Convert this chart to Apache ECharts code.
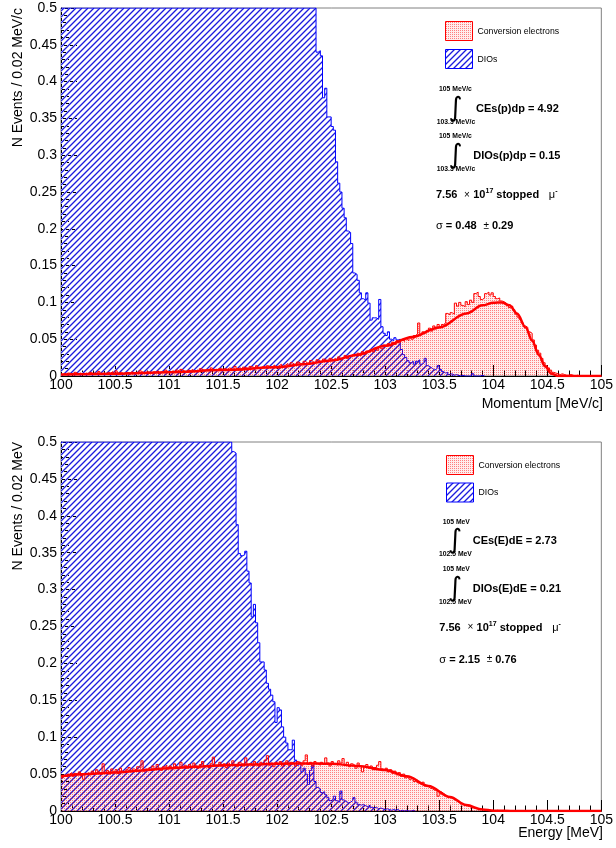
<!DOCTYPE html>
<html>
<head>
<meta charset="utf-8">
<script src="https://cdn.jsdelivr.net/npm/echarts@6/dist/echarts.min.js"></script>
<style>
  html, body { margin: 0; padding: 0; background: #ffffff; }
  #chart { width: 616px; height: 848px; }
</style>
</head>
<body>
<div id="chart"></div>
<script>
// ---- binning / axis ranges ----
const binW = 0.02;
const xMin = 100, xMax = 105, xStep = 0.5;
const yMin = 0, yMax = 0.5, yStep = 0.05;

// ---- momentum spectrum: conversion electrons, 0.02 MeV/c bins from 100.00 ----
const ceMomentum = [
  0.002,0.003,0.001,0.004,0.003,0.002,0.005,0.003,0.004,0.002,
  0.003,0.004,0.002,0.005,0.003,0.004,0.003,0.006,0.003,0.004,
  0.003,0.005,0.004,0.006,0.003,0.007,0.004,0.005,0.003,0.004,
  0.005,0.004,0.006,0.003,0.005,0.004,0.007,0.005,0.004,0.006,
  0.005,0.004,0.006,0.005,0.007,0.004,0.006,0.005,0.008,0.005,
  0.006,0.007,0.005,0.008,0.006,0.009,0.007,0.006,0.008,0.007,
  0.009,0.006,0.008,0.007,0.010,0.008,0.007,0.009,0.008,0.011,
  0.008,0.009,0.007,0.010,0.009,0.010,0.009,0.011,0.010,0.008,
  0.013,0.010,0.011,0.009,0.012,0.011,0.010,0.013,0.012,0.010,
  0.014,0.011,0.012,0.013,0.011,0.014,0.012,0.013,0.015,0.012,
  0.014,0.016,0.013,0.015,0.017,0.014,0.018,0.016,0.015,0.019,
  0.017,0.016,0.020,0.018,0.017,0.021,0.019,0.018,0.022,0.020,
  0.019,0.023,0.021,0.020,0.024,0.022,0.024,0.021,0.026,0.023,
  0.025,0.028,0.024,0.027,0.026,0.029,0.027,0.031,0.028,0.033,
  0.030,0.034,0.032,0.036,0.033,0.038,0.035,0.040,0.037,0.042,
  0.040,0.044,0.041,0.046,0.043,0.048,0.045,0.049,0.047,0.050,
  0.048,0.053,0.050,0.055,0.057,0.072,0.056,0.060,0.058,0.062,
  0.065,0.061,0.068,0.064,0.070,0.067,0.070,0.072,0.085,0.083,
  0.086,0.084,0.099,0.095,0.100,0.096,0.094,0.101,0.097,0.103,
  0.100,0.112,0.114,0.108,0.104,0.106,0.112,0.114,0.110,0.113,
  0.108,0.105,0.106,0.102,0.101,0.099,0.096,0.093,0.095,0.090,
  0.084,0.080,0.077,0.072,0.068,0.066,0.060,0.058,0.049,0.042,
  0.035,0.031,0.024,0.018,0.014,0.011,0.008,0.005,0.004,0.003,
  0.002,0.003,0.002,0.001,0.001,0.002,0.001,0.000,0.001,0.000,
  0.000,0.000,0.000,0.000,0.000,0.000,0.000,0.000,0.000,0.000
];

// ---- momentum spectrum: DIO; below dioMomentumStart the bins are above the frame ----
const dioMomentumStart = 102.36;
const dioMomentum = [
  0.440,0.442,0.435,0.378,0.391,0.352,0.352,0.339,0.334,0.291,
  0.262,0.250,0.228,0.215,0.197,0.195,0.180,0.140,0.138,0.130,
  0.113,0.105,0.103,0.113,0.099,0.076,0.079,0.079,0.077,0.104,
  0.067,0.058,0.055,0.060,0.050,0.048,0.052,0.049,0.050,0.036,
  0.029,0.025,0.021,0.018,0.020,0.016,0.020,0.022,0.016,0.018,
  0.024,0.014,0.012,0.010,0.008,0.010,0.014,0.009,0.006,0.004,
  0.005,0.002,0.003,0.001,0.002,0.001,0.000,0.001,0.000,0.000,
  0.000,0.000,0.003,0.000,0.000,0.000,0.001,0.000
];

// ---- fitted CE momentum shape [p, N] ----
const ceMomentumFit = [
  [100,0.002],[100.5,0.003],[101,0.005],[101.5,0.008],[102,0.012],[102.25,0.016],
  [102.5,0.021],[102.75,0.029],[103,0.041],[103.25,0.053],[103.5,0.066],[103.75,0.085],
  [103.9,0.096],[104.0,0.0995],[104.08,0.100],[104.15,0.096],[104.22,0.085],[104.3,0.066],
  [104.36,0.048],[104.42,0.029],[104.48,0.013],[104.54,0.003],[104.6,0.0],[105,0.0]
];

// ---- energy spectrum: conversion electrons, 0.02 MeV bins from 100.00 ----
const ceEnergy = [
  0.045,0.048,0.046,0.050,0.052,0.047,0.051,0.049,0.053,0.048,
  0.043,0.050,0.052,0.049,0.054,0.051,0.056,0.053,0.050,0.064,
  0.052,0.055,0.050,0.057,0.053,0.056,0.051,0.058,0.054,0.052,
  0.056,0.059,0.053,0.057,0.055,0.060,0.058,0.068,0.054,0.057,
  0.059,0.056,0.061,0.057,0.063,0.058,0.055,0.060,0.062,0.057,
  0.061,0.058,0.064,0.060,0.057,0.066,0.059,0.062,0.058,0.063,
  0.060,0.065,0.061,0.058,0.063,0.067,0.060,0.062,0.059,0.064,
  0.073,0.062,0.060,0.066,0.061,0.064,0.059,0.065,0.062,0.068,
  0.063,0.060,0.066,0.064,0.061,0.072,0.063,0.065,0.062,0.067,
  0.064,0.061,0.066,0.063,0.069,0.075,0.062,0.065,0.060,0.066,
  0.063,0.067,0.061,0.065,0.068,0.062,0.066,0.064,0.061,0.067,
  0.065,0.062,0.068,0.076,0.063,0.066,0.061,0.067,0.064,0.062,
  0.066,0.063,0.072,0.065,0.061,0.067,0.064,0.062,0.068,0.065,
  0.071,0.063,0.066,0.060,0.064,0.062,0.058,0.065,0.061,0.053,
  0.060,0.063,0.058,0.061,0.056,0.059,0.062,0.067,0.057,0.055,
  0.058,0.053,0.056,0.051,0.054,0.049,0.052,0.047,0.050,0.045,
  0.047,0.043,0.045,0.040,0.042,0.038,0.036,0.039,0.034,0.033,
  0.031,0.030,0.028,0.029,0.020,0.026,0.024,0.022,0.020,0.019,
  0.017,0.016,0.014,0.012,0.011,0.009,0.008,0.007,0.006,0.005,
  0.004,0.004,0.003,0.003,0.002,0.002,0.001,0.002,0.001,0.001,
  0.000,0.001,0.000,0.000,0.001,0.000,0.000,0.000,0.000,0.000,
  0.000,0.000,0.000,0.000,0.000,0.000,0.000,0.000,0.000,0.000,
  0.000,0.000,0.000,0.000,0.000,0.000,0.000,0.000,0.000,0.000,
  0.000,0.000,0.000,0.000,0.000,0.000,0.000,0.000,0.000,0.000,
  0.000,0.000,0.000,0.000,0.000,0.000,0.000,0.000,0.000,0.000
];

// ---- energy spectrum: DIO; below dioEnergyStart the bins are above the frame ----
const dioEnergyStart = 101.58;
const dioEnergy = [
  0.487,0.485,0.388,0.349,0.346,0.347,0.352,0.325,0.309,0.263,
  0.280,0.255,0.228,0.202,0.202,0.191,0.173,0.165,0.157,0.148,
  0.120,0.140,0.137,0.114,0.100,0.092,0.083,0.083,0.096,0.069,
  0.062,0.066,0.053,0.058,0.050,0.036,0.055,0.062,0.040,0.032,
  0.030,0.025,0.026,0.022,0.018,0.014,0.016,0.020,0.014,0.012,
  0.027,0.015,0.013,0.011,0.012,0.014,0.018,0.012,0.009,0.008,
  0.009,0.007,0.006,0.008,0.005,0.004,0.005,0.003,0.004,0.003,
  0.002,0.003,0.002,0.001,0.002,0.001,0.002,0.000,0.001,0.000,
  0.001,0.000,0.000,0.001,0.000
];

// ---- fitted CE energy shape [E, N] ----
const ceEnergyFit = [
  [100,0.047],[100.25,0.050],[100.5,0.052],[100.75,0.055],[101,0.058],[101.25,0.060],
  [101.5,0.062],[101.75,0.063],[102,0.064],[102.25,0.0645],[102.5,0.064],[102.75,0.061],
  [103,0.0555],[103.2,0.047],[103.4,0.034],[103.6,0.019],[103.75,0.008],[103.9,0.002],
  [104.0,0.0005],[104.2,0.0],[105,0.0]
];

// ---- text ----
const legendLabels = ['Conversion electrons', 'DIOs'];
const axisTitlesX = ['Momentum [MeV/c]', 'Energy [MeV]'];
const axisTitlesY = ['N Events / 0.02 MeV/c', 'N Events / 0.02 MeV'];
const upperLimits = ['105 MeV/c', '105 MeV'];
const lowerLimits = ['103.3 MeV/c', '102.5 MeV'];
const ceIntegrals = ['CEs(p)dp = 4.92', 'CEs(E)dE = 2.73'];
const dioIntegrals = ['DIOs(p)dp = 0.15', 'DIOs(E)dE = 0.21'];
const stoppedMuons = ['7.56', '17'];
const sigmaValues = [['0.48', '0.29'], ['2.15', '0.76']];

const FONT = 'Liberation Sans, Arial, Helvetica, sans-serif';

// ---- fill patterns ----
// forward-slash hatch: a blue core pixel per row with pale-blue fringes
function hatchPattern(size) {
  const c = document.createElement('canvas');
  c.width = size; c.height = size;
  const g = c.getContext('2d');
  for (let i = 0; i < size; i++) {
    const row = size - 1 - i;
    g.fillStyle = 'rgb(150,150,245)';
    g.fillRect((i + size - 1) % size, row, 1, 1);
    g.fillRect((i + 1) % size, row, 1, 1);
    g.fillStyle = 'rgb(30,30,215)';
    g.fillRect(i, row, 1, 1);
  }
  return { image: c, repeat: 'repeat' };
}
// fine red dot stipple on a pale pink ground
function stipplePattern() {
  const c = document.createElement('canvas');
  c.width = 2; c.height = 2;
  const g = c.getContext('2d');
  g.fillStyle = 'rgba(255,0,0,0.07)';
  g.fillRect(0, 0, 2, 2);
  g.clearRect(0, 0, 1, 1);
  g.fillStyle = 'rgba(255,0,0,0.5)';
  g.fillRect(0, 0, 1, 1);
  return { image: c, repeat: 'repeat' };
}
const hatch = hatchPattern(6);
const stipple = stipplePattern();

// ---- histogram outline points (bin low edges + closing edge) ----
function histData(start, vals, offscaleFrom) {
  const pts = [];
  if (offscaleFrom !== undefined) pts.push([offscaleFrom, yMax]);
  vals.forEach((v, i) => pts.push([+(start + i * binW).toFixed(2), Math.min(v, yMax)]));
  pts.push([+(start + vals.length * binW).toFixed(2), Math.min(vals[vals.length - 1], yMax)]);
  return pts;
}

function histSeries(idx, data, lineColor, fill, z) {
  return {
    type: 'line', xAxisIndex: idx, yAxisIndex: idx, data: data,
    step: 'end', symbol: 'none', silent: true, clip: true, z: z,
    lineStyle: { color: lineColor, width: 1 },
    areaStyle: { color: fill, opacity: 1, origin: 'start' }
  };
}
function fitSeries(idx, data) {
  return {
    type: 'line', xAxisIndex: idx, yAxisIndex: idx, data: data,
    smooth: 0.35, smoothMonotone: 'x', symbol: 'none', silent: true, clip: true, z: 5,
    lineStyle: { color: '#ff0000', width: 2.5 }
  };
}

const grids = [
  { left: 61, top: 8, width: 542, height: 368 },
  { left: 61, top: 442, width: 542, height: 369 }
];

function makeXAxis(i) {
  return {
    gridIndex: i, type: 'value', min: xMin, max: xMax, interval: xStep,
    axisLine: { show: true, onZero: false, lineStyle: { color: '#000', width: 1 } },
    axisTick: { show: true, inside: true, length: 11, lineStyle: { color: '#000' } },
    minorTick: { show: true, splitNumber: 5, length: 5.5, lineStyle: { color: '#000' } },
    splitLine: { show: false }, minorSplitLine: { show: false },
    axisLabel: { margin: 2, fontSize: 14, fontFamily: FONT, color: '#000' }
  };
}
function makeYAxis(i) {
  return {
    gridIndex: i, type: 'value', min: yMin, max: yMax, interval: yStep,
    axisLine: { show: true, onZero: false, lineStyle: { color: '#000', width: 1 } },
    axisTick: { show: true, inside: true, length: 16, lineStyle: { color: '#000' } },
    minorTick: { show: true, splitNumber: 5, length: 8, lineStyle: { color: '#000' } },
    splitLine: { show: false }, minorSplitLine: { show: false },
    axisLabel: { margin: 4, fontSize: 14, fontFamily: FONT, color: '#000' }
  };
}

// ---- annotation text helpers ----
function txt(x, y, text, size, weight, align) {
  return {
    type: 'text', x: x, y: y, silent: true, z: 20,
    style: {
      text: text, fill: '#000', fontSize: size, fontWeight: weight || 'normal', fontFamily: FONT,
      align: align || 'left', verticalAlign: 'middle', textAlign: align || 'left', textVerticalAlign: 'middle'
    }
  };
}
function integralSign(x, y) {
  return {
    type: 'text', x: x, y: y, silent: true, z: 20,
    style: {
      text: '\u222B', fill: '#000', fontSize: 27, fontFamily: 'DejaVu Sans, sans-serif',
      align: 'center', verticalAlign: 'middle', textAlign: 'center', textVerticalAlign: 'middle'
    }
  };
}
function richLine(x, y, text, rich) {
  return {
    type: 'text', x: x, y: y, silent: true, z: 20,
    style: { text: text, rich: rich, fill: '#000', align: 'left', verticalAlign: 'middle',
             textAlign: 'left', textVerticalAlign: 'middle' }
  };
}
const richStyles = {
  b: { fontSize: 11, fontWeight: 'bold', fontFamily: FONT, lineHeight: 14, fill: '#000' },
  r: { fontSize: 10, fontFamily: FONT, lineHeight: 14, fill: '#000' },
  s: { fontSize: 7, fontWeight: 'bold', fontFamily: FONT, lineHeight: 8, verticalAlign: 'top', fill: '#000' },
  m: { fontSize: 11, fontFamily: FONT, lineHeight: 14, fill: '#000' }
};

function panelNotes(i, p) {
  return [
    { type: 'rect', silent: true, z: 20, shape: { x: p.bx, y: p.by1, width: 27, height: 19 },
      style: { fill: stipple, stroke: '#ff0000', lineWidth: 1 } },
    { type: 'rect', silent: true, z: 20, shape: { x: p.bx, y: p.by2, width: 27, height: 19 },
      style: { fill: hatch, stroke: '#0000ff', lineWidth: 1 } },
    txt(p.bx + 32, p.by1 + 10, legendLabels[0], 8.7),
    txt(p.bx + 32, p.by2 + 10, legendLabels[1], 8.7),
    txt(p.ux, p.i1 - 19, upperLimits[i], 6.8, 'bold'),
    integralSign(p.sx, p.i1),
    txt(p.lx, p.i1 + 13.5, lowerLimits[i], 6.8, 'bold'),
    txt(p.ex1, p.i1, ceIntegrals[i], 11, 'bold'),
    txt(p.ux, p.i2 - 19, upperLimits[i], 6.8, 'bold'),
    integralSign(p.sx, p.i2),
    txt(p.lx, p.i2 + 13.5, lowerLimits[i], 6.8, 'bold'),
    txt(p.ex2, p.i2, dioIntegrals[i], 11, 'bold'),
    richLine(p.tx, p.muY,
      '{b|' + stoppedMuons[0] + '}  {r|\u00D7} {b|10}{s|' + stoppedMuons[1] + '}{b| stopped }  {m|\u03BC}{s|-}',
      richStyles),
    richLine(p.tx, p.sgY,
      '{m|\u03C3}{b| = ' + sigmaValues[i][0] + '}  {r|\u00B1}{b| ' + sigmaValues[i][1] + '}',
      richStyles),
    // axis titles
    txt(603, p.xtY, axisTitlesX[i], 14, 'normal', 'right'),
    {
      type: 'text', x: 18, y: p.ytTop, rotation: Math.PI / 2, silent: true, z: 20,
      style: { text: axisTitlesY[i], fill: '#000', fontSize: 14, fontFamily: FONT,
               align: 'right', verticalAlign: 'middle', textAlign: 'right', textVerticalAlign: 'middle' }
    }
  ];
}

const notesTop = panelNotes(0, {
  bx: 445.5, by1: 21.5, by2: 49.5,
  ux: 439, lx: 436.7, sx: 455.5, i1: 108.5, i2: 155.5, ex1: 476, ex2: 473.3,
  tx: 436, muY: 195, sgY: 226, xtY: 404, ytTop: 8
});
const notesBottom = panelNotes(1, {
  bx: 446.5, by1: 455.5, by2: 483,
  ux: 442.7, lx: 439, sx: 455, i1: 541, i2: 588.5, ex1: 472.7, ex2: 472.7,
  tx: 439.3, muY: 627.5, sgY: 659.5, xtY: 833, ytTop: 442
});

const chart = echarts.init(document.getElementById('chart'), null, { renderer: 'canvas' });
chart.setOption({
  animation: false,
  backgroundColor: '#ffffff',
  grid: grids.map(g => Object.assign({ show: true, borderColor: '#808080', borderWidth: 1, backgroundColor: 'transparent' }, g)),
  xAxis: [makeXAxis(0), makeXAxis(1)],
  yAxis: [makeYAxis(0), makeYAxis(1)],
  series: [
    histSeries(0, histData(dioMomentumStart, dioMomentum, xMin), '#0000ff', hatch, 2),
    histSeries(0, histData(xMin, ceMomentum), '#ff0000', stipple, 3),
    fitSeries(0, ceMomentumFit),
    histSeries(1, histData(dioEnergyStart, dioEnergy, xMin), '#0000ff', hatch, 2),
    histSeries(1, histData(xMin, ceEnergy), '#ff0000', stipple, 3),
    fitSeries(1, ceEnergyFit)
  ],
  graphic: { elements: notesTop.concat(notesBottom) }
});
</script>
</body>
</html>
